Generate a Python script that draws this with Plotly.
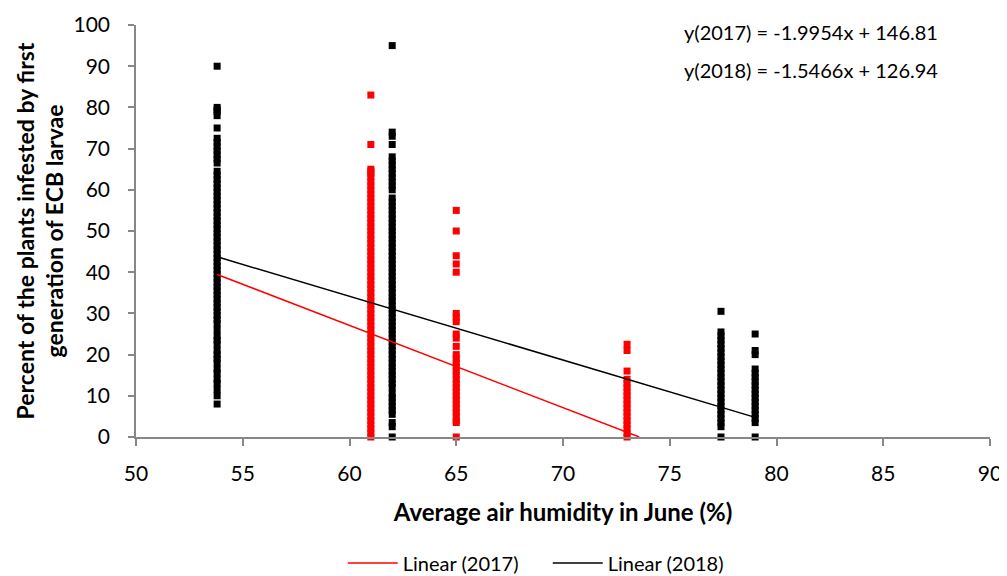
import plotly.graph_objects as go

# ---- data ----
x_2017_a = 61.0
y_2017_a = [83, 71, 65, 64.5, 64, 63, 62, 61, 60, 59, 58, 57, 56, 55, 54, 53, 52, 51, 50, 49, 48, 47, 46,
            45, 44, 43, 42, 41, 40, 39, 38, 37, 36, 35, 34, 33, 32, 31, 30, 29, 28, 27, 26, 25, 24, 23,
            22, 21, 20, 19, 18, 17, 16, 15, 14, 13, 12, 11, 10, 9, 8, 7, 6, 5, 4, 3, 2, 1, 0]
x_2017_b = 65.0
y_2017_b = [55, 50, 44, 42, 40, 30, 29, 28, 25, 24, 22, 20, 19, 18, 17, 16, 15, 14, 13, 12, 11, 10,
            9, 8, 7, 6, 5, 4, 3.5, 0]
x_2017_c = 73.0
y_2017_c = [22.5, 21, 16, 14, 13, 12, 11, 10, 9, 8, 7, 6, 5, 4, 3, 2, 1, 0]

x_2018_a = 53.8
y_2018_a = [90, 80, 79.5, 79, 78, 75, 72.5, 71.5, 70.5, 69.5, 68.5, 67.5, 66.5, 64.5, 63.5, 62.5, 61.5,
            60.5, 59.5, 58.5, 57.5, 56.5, 55.5, 54.5, 53.5, 52.5, 51.5, 50.5, 49.5, 48.5, 47.5, 46.5,
            45.5, 44.5, 43.5, 42.5, 41.5, 40.5, 39.5, 38.5, 37.5, 36.5, 35.5, 34.5, 33.5, 32.5, 31.5,
            30.5, 29.5, 28.5, 27.5, 26, 24.5, 23.5, 22.5, 21, 20, 19, 18, 16.5, 15.5, 14, 13, 11.5, 10, 8]
x_2018_b = 62.0
y_2018_b = [95, 74, 73, 71, 68, 67, 66, 65, 64, 63, 62, 61, 60, 58, 57, 56, 55, 54, 53, 52, 51, 50, 49,
            48, 47, 46, 45, 44, 43, 42, 41, 40, 39, 38, 37, 36, 35, 34, 33, 32, 31, 30, 29, 28, 27, 26,
            25, 24, 23, 22, 21, 20, 19, 18, 17, 16, 15, 14, 13, 12, 10.5, 9.5, 8.5, 7.5, 6.5, 5.5, 3.5, 2.5, 0]
x_2018_c = 77.4
y_2018_c = [30.5, 25.5, 24.5, 23.5, 22.5, 21.5, 20.5, 19.5, 18.5, 17.5, 16.5, 15.5, 14.5, 13.5, 12.5,
            11.5, 10.5, 9.5, 8.5, 7.5, 6.5, 5.5, 4.5, 3.5, 2.5, 0]
x_2018_d = 79.0
y_2018_d = [25, 21, 20, 16.5, 15.5, 14.5, 13.5, 12.5, 11.5, 10.5, 9.5, 8.5, 7.5, 6.5, 5.5, 4.5, 3.5, 0]

slope_2017, icpt_2017 = -1.9954, 146.81
slope_2018, icpt_2018 = -1.5466, 126.94
line_x_2017 = [53.8, 73.57]
line_x_2018 = [53.8, 79.0]

x_ticks = [50, 55, 60, 65, 70, 75, 80, 85, 90]
y_ticks = [0, 10, 20, 30, 40, 50, 60, 70, 80, 90, 100]

FONT = "Lato, Open Sans, sans-serif"
RED = "#FF0000"
BLACK = "#000000"
AXIS = "#878787"

fig = go.Figure()

def scatter(x, ys, color):
    fig.add_trace(go.Scatter(x=[x] * len(ys), y=ys, mode="markers",
                             marker=dict(symbol="square", size=7, color=color),
                             showlegend=False, hoverinfo="skip", cliponaxis=False))

scatter(x_2017_a, y_2017_a, RED)
scatter(x_2017_b, y_2017_b, RED)
scatter(x_2017_c, y_2017_c, RED)
scatter(x_2018_a, y_2018_a, BLACK)
scatter(x_2018_b, y_2018_b, BLACK)
scatter(x_2018_c, y_2018_c, BLACK)
scatter(x_2018_d, y_2018_d, BLACK)

fig.add_trace(go.Scatter(x=line_x_2017, y=[slope_2017 * v + icpt_2017 for v in line_x_2017],
                         mode="lines", line=dict(color=RED, width=1.5), name="Linear (2017)"))
fig.add_trace(go.Scatter(x=line_x_2018, y=[slope_2018 * v + icpt_2018 for v in line_x_2018],
                         mode="lines", line=dict(color=BLACK, width=1.5), name="Linear (2018)"))

fig.add_annotation(x=0.790, y=0.983, xref="paper", yref="paper",
                   text="y(2017) = -1.9954x + 146.81", showarrow=False,
                   font=dict(family=FONT, size=20, color="black"), xanchor="center", yanchor="middle")
fig.add_annotation(x=0.790, y=0.891, xref="paper", yref="paper",
                   text="y(2018) = -1.5466x + 126.94", showarrow=False,
                   font=dict(family=FONT, size=20, color="black"), xanchor="center", yanchor="middle")

fig.update_layout(
    width=1007, height=576,
    margin=dict(l=128, r=25, t=17, b=147, autoexpand=False),
    plot_bgcolor="white", paper_bgcolor="white",
    font=dict(family=FONT, size=21, color="black"),
    xaxis=dict(range=[50, 90], tickvals=x_ticks, showgrid=False, zeroline=False,
               showline=True, linecolor=AXIS, linewidth=1.5,
               ticks="outside", ticklen=7, tickcolor=AXIS, tickwidth=1.5,
               ticklabelstandoff=10, tickfont=dict(size=21),
               title=dict(text="<b>Average air humidity in June (%)</b>", font=dict(size=24), standoff=20)),
    yaxis=dict(range=[0, 100], tickvals=y_ticks, showgrid=False, zeroline=False,
               showline=True, linecolor=AXIS, linewidth=1.5,
               ticks="outside", ticklen=6, tickcolor=AXIS, tickwidth=1.5,
               ticklabelstandoff=14, tickfont=dict(size=21),
               title=dict(text="<b>Percent of the plants infested by first<br>generation of ECB larvae</b>",
                          font=dict(size=23), standoff=3)),
    legend=dict(orientation="h", xref="container", yref="container",
                x=0.536, xanchor="center", y=0.0365, yanchor="middle",
                entrywidth=140, entrywidthmode="pixels", itemwidth=50,
                font=dict(size=20)),
)

fig.write_html("out.html")
